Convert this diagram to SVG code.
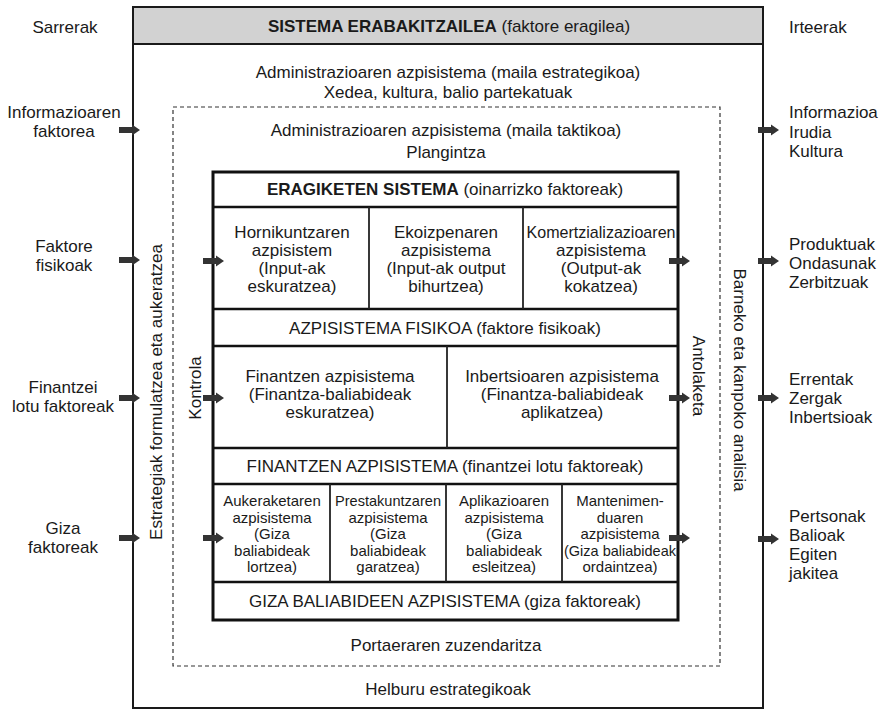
<svg xmlns="http://www.w3.org/2000/svg" xmlns:xlink="http://www.w3.org/1999/xlink" width="885" height="713" viewBox="0 0 885 713">
  <style>
    text { font-family: "Liberation Sans", Arial, sans-serif; font-size: 17px; fill: #1a1a1a; }
    .c { text-anchor: middle; }
    .sm { font-size: 15px; }
    .b { font-weight: bold; }
    .frame { fill: none; stroke: #1a1a1a; stroke-width: 2; }
    .dash { fill: none; stroke: #333; stroke-width: 1.2; stroke-dasharray: 4 3; }
    .box { fill: none; stroke: #111; stroke-width: 3; }
    .row { stroke: #111; stroke-width: 2.5; }
    .cell { stroke: #222; stroke-width: 1.8; }
    .arr { fill: #333; }
  </style>
  <defs>
    <!-- block arrow, tip at the origin -->
    <path id="arw" d="M-21,-3 H-8 V-5.5 L0,0 L-8,5.5 V3 H-21 Z"/>
  </defs>

  <rect width="885" height="713" fill="#fff"/>

  <!-- side headings -->
  <g id="inputs">
    <text class="c" x="65" y="33">Sarrerak</text>
    <text class="c" x="64" y="118">Informazioaren</text>
    <text class="c" x="64" y="137">faktorea</text>
    <text class="c" x="64" y="252">Faktore</text>
    <text class="c" x="64" y="271">fisikoak</text>
    <text class="c" x="63" y="393">Finantzei</text>
    <text class="c" x="63" y="412">lotu faktoreak</text>
    <text class="c" x="63" y="534">Giza</text>
    <text class="c" x="63" y="553">faktoreak</text>
  </g>
  <g id="outputs">
    <text x="789" y="33">Irteerak</text>
    <text x="789" y="118">Informazioa</text>
    <text x="789" y="138">Irudia</text>
    <text x="789" y="157">Kultura</text>
    <text x="789" y="250">Produktuak</text>
    <text x="789" y="269">Ondasunak</text>
    <text x="789" y="288">Zerbitzuak</text>
    <text x="789" y="385">Errentak</text>
    <text x="789" y="404">Zergak</text>
    <text x="789" y="423">Inbertsioak</text>
    <text x="789" y="522">Pertsonak</text>
    <text x="789" y="541">Balioak</text>
    <text x="789" y="560">Egiten</text>
    <text x="789" y="579">jakitea</text>
  </g>

  <!-- decision system: outer frame with grey title band -->
  <g id="decision-system">
    <rect x="133" y="7" width="630" height="37" fill="#d2d2d2"/>
    <rect class="frame" x="133" y="7" width="630" height="701"/>
    <line class="frame" x1="133" y1="44" x2="763" y2="44"/>
    <text class="c" x="449" y="32"><tspan class="b">SISTEMA ERABAKITZAILEA</tspan> (faktore eragilea)</text>
    <text class="c" x="448" y="78">Administrazioaren azpisistema (maila estrategikoa)</text>
    <text class="c" x="448" y="98">Xedea, kultura, balio partekatuak</text>
    <text class="c" x="448" y="695">Helburu estrategikoak</text>
    <text class="c" transform="translate(156,392) rotate(-90)" y="6">Estrategiak formulatzea eta aukeratzea</text>
    <text class="c" transform="translate(740,380) rotate(90)" y="6">Barneko eta kanpoko analisia</text>
  </g>

  <!-- tactical management subsystem (dashed) -->
  <g id="tactical">
    <rect class="dash" x="173" y="107" width="547" height="559"/>
    <text class="c" x="446" y="136">Administrazioaren azpisistema (maila taktikoa)</text>
    <text class="c" x="446" y="158">Plangintza</text>
    <text class="c" x="446" y="651">Portaeraren zuzendaritza</text>
    <text class="c" transform="translate(195,388) rotate(-90)" y="6">Kontrola</text>
    <text class="c" transform="translate(699,376) rotate(90)" y="6">Antolaketa</text>
  </g>

  <!-- operations system -->
  <g id="operations">
    <rect x="213" y="172" width="465" height="448" fill="#fff"/>
    <line class="row" x1="213" y1="207" x2="678" y2="207"/>
    <line class="row" x1="213" y1="309" x2="678" y2="309"/>
    <line class="row" x1="213" y1="346" x2="678" y2="346"/>
    <line class="row" x1="213" y1="448" x2="678" y2="448"/>
    <line class="row" x1="213" y1="484" x2="678" y2="484"/>
    <line class="row" x1="213" y1="582" x2="678" y2="582"/>
    <rect class="box" x="213" y="172" width="465" height="448"/>
    <text class="c" x="445" y="195"><tspan class="b">ERAGIKETEN SISTEMA</tspan> (oinarrizko faktoreak)</text>
  </g>

  <g id="supply">
    <line class="cell" x1="369" y1="207" x2="369" y2="309"/>
    <text class="c" x="292" y="238">Hornikuntzaren</text>
    <text class="c" x="292" y="256">azpisistem</text>
    <text class="c" x="292" y="274">(Input-ak</text>
    <text class="c" x="292" y="292">eskuratzea)</text>
  </g>
  <g id="production">
    <line class="cell" x1="523" y1="207" x2="523" y2="309"/>
    <text class="c" x="446" y="238">Ekoizpenaren</text>
    <text class="c" x="446" y="256">azpisistema</text>
    <text class="c" x="446" y="274">(Input-ak output</text>
    <text class="c" x="446" y="292">bihurtzea)</text>
  </g>
  <g id="marketing">
    <text class="c" x="601" y="238" textLength="149" lengthAdjust="spacingAndGlyphs">Komertzializazioaren</text>
    <text class="c" x="601" y="256">azpisistema</text>
    <text class="c" x="601" y="274">(Output-ak</text>
    <text class="c" x="601" y="292">kokatzea)</text>
  </g>
  <g id="physical">
    <text class="c" x="445" y="334">AZPISISTEMA FISIKOA (faktore fisikoak)</text>
  </g>

  <g id="finance">
    <line class="cell" x1="447" y1="346" x2="447" y2="448"/>
    <text class="c" x="330" y="382">Finantzen azpisistema</text>
    <text class="c" x="330" y="400">(Finantza-baliabideak</text>
    <text class="c" x="330" y="418">eskuratzea)</text>
  </g>
  <g id="investment">
    <text class="c" x="562" y="382">Inbertsioaren azpisistema</text>
    <text class="c" x="562" y="400">(Finantza-baliabideak</text>
    <text class="c" x="562" y="418">aplikatzea)</text>
  </g>
  <g id="financial-subsystem">
    <text class="c" x="445" y="472">FINANTZEN AZPISISTEMA (finantzei lotu faktoreak)</text>
  </g>

  <g id="recruitment">
    <line class="cell" x1="330" y1="484" x2="330" y2="582"/>
    <text class="c sm" x="272" y="506">Aukeraketaren</text>
    <text class="c sm" x="272" y="522.5">azpisistema</text>
    <text class="c sm" x="272" y="539">(Giza</text>
    <text class="c sm" x="272" y="555.5">baliabideak</text>
    <text class="c sm" x="272" y="572">lortzea)</text>
  </g>
  <g id="training">
    <line class="cell" x1="446" y1="484" x2="446" y2="582"/>
    <text class="c sm" x="388" y="506" textLength="106" lengthAdjust="spacingAndGlyphs">Prestakuntzaren</text>
    <text class="c sm" x="388" y="522.5">azpisistema</text>
    <text class="c sm" x="388" y="539">(Giza</text>
    <text class="c sm" x="388" y="555.5">baliabideak</text>
    <text class="c sm" x="388" y="572">garatzea)</text>
  </g>
  <g id="allocation">
    <line class="cell" x1="562" y1="484" x2="562" y2="582"/>
    <text class="c sm" x="504" y="506">Aplikazioaren</text>
    <text class="c sm" x="504" y="522.5">azpisistema</text>
    <text class="c sm" x="504" y="539">(Giza</text>
    <text class="c sm" x="504" y="555.5">baliabideak</text>
    <text class="c sm" x="504" y="572">esleitzea)</text>
  </g>
  <g id="maintenance">
    <text class="c sm" x="620" y="506">Mantenimen-</text>
    <text class="c sm" x="620" y="522.5">duaren</text>
    <text class="c sm" x="620" y="539">azpisistema</text>
    <text class="c sm" x="620" y="555.5" textLength="112" lengthAdjust="spacingAndGlyphs">(Giza baliabideak</text>
    <text class="c sm" x="620" y="572">ordaintzea)</text>
  </g>
  <g id="human-resources">
    <text class="c" x="445" y="607">GIZA BALIABIDEEN AZPISISTEMA (giza faktoreak)</text>
  </g>

  <!-- flow arrows -->
  <g id="connectors" class="arr">
    <use xlink:href="#arw" x="140" y="130"/>
    <use xlink:href="#arw" x="140" y="260"/>
    <use xlink:href="#arw" x="140" y="398"/>
    <use xlink:href="#arw" x="140" y="538"/>
    <use xlink:href="#arw" x="224" y="261"/>
    <use xlink:href="#arw" x="224" y="398"/>
    <use xlink:href="#arw" x="224" y="538"/>
    <use xlink:href="#arw" x="690" y="261"/>
    <use xlink:href="#arw" x="690" y="398"/>
    <use xlink:href="#arw" x="690" y="538"/>
    <use xlink:href="#arw" x="779" y="130"/>
    <use xlink:href="#arw" x="779" y="261"/>
    <use xlink:href="#arw" x="779" y="398"/>
    <use xlink:href="#arw" x="779" y="539"/>
  </g>
</svg>
